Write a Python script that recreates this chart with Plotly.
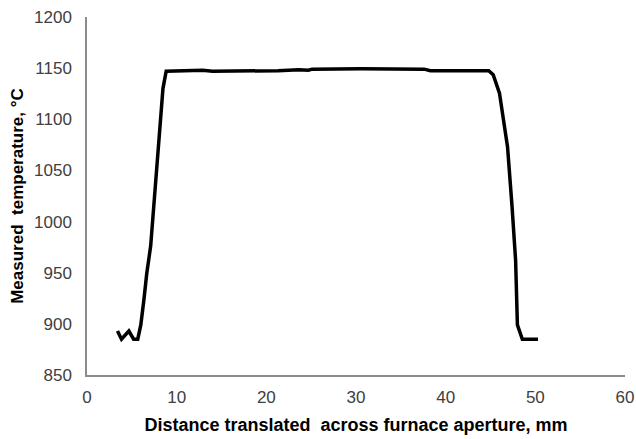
import plotly.graph_objects as go

distance_mm = [3.4, 3.85, 4.67, 5.2, 5.66, 6.0, 6.34, 6.66, 7.1, 7.38, 7.7, 8.0, 8.3, 8.47, 8.83,
               10.9, 11.3, 12.9, 14.0, 19.5, 20.2, 21.3, 23.6, 24.7, 25.1, 30.6, 37.6, 38.3,
               44.8, 45.3, 46.0, 46.4, 46.9, 47.4, 47.8, 48.0, 48.55, 50.3]
temperature_c = [893, 885, 893, 885, 885, 899, 923, 949, 976, 1008, 1044, 1086, 1116, 1130, 1147,
                 1147.5, 1147, 1148, 1147, 1147.5, 1147, 1147.5, 1148.5, 1148, 1149, 1149.5, 1149, 1147.5,
                 1147.5, 1143.5, 1125.6, 1103, 1073, 1015, 962, 899, 885, 885]

x_ticks = [0, 10, 20, 30, 40, 50, 60]
y_ticks = [850, 900, 950, 1000, 1050, 1100, 1150, 1200]

fig = go.Figure()
fig.add_trace(go.Scatter(x=distance_mm, y=temperature_c, mode="lines",
                         line=dict(color="black", width=3.5), showlegend=False))

font = "Liberation Sans, Arial, sans-serif"
fig.update_layout(
    width=636, height=439,
    margin=dict(l=87, r=11, t=17, b=64),
    paper_bgcolor="white", plot_bgcolor="white",
    font=dict(family=font, size=17, color="#404040"),
    xaxis=dict(range=[0, 60], tickvals=x_ticks, showgrid=False, zeroline=False,
               showline=True, linecolor="#8c8c8c", linewidth=1.5, ticks="",
               automargin=False, ticklabelstandoff=6, ticklabeloverflow="allow",
               tickfont=dict(size=17, color="#404040"),
               title=dict(text="<b>Distance translated  across furnace aperture, mm</b>",
                          font=dict(size=18, color="black"), standoff=12)),
    yaxis=dict(range=[850, 1200], tickvals=y_ticks, showgrid=False, zeroline=False,
               showline=True, linecolor="#8c8c8c", linewidth=1.5, ticks="",
               automargin=False, ticklabelstandoff=10, ticklabeloverflow="allow",
               tickfont=dict(size=17, color="#404040"),
               title=dict(text="<b>Measured  temperature, °C</b>",
                          font=dict(size=17, color="black"), standoff=6)),
)
fig.write_html("out.html", config={"displayModeBar": False},
               post_script="document.body.style.margin='0';document.body.style.overflow='hidden';")
